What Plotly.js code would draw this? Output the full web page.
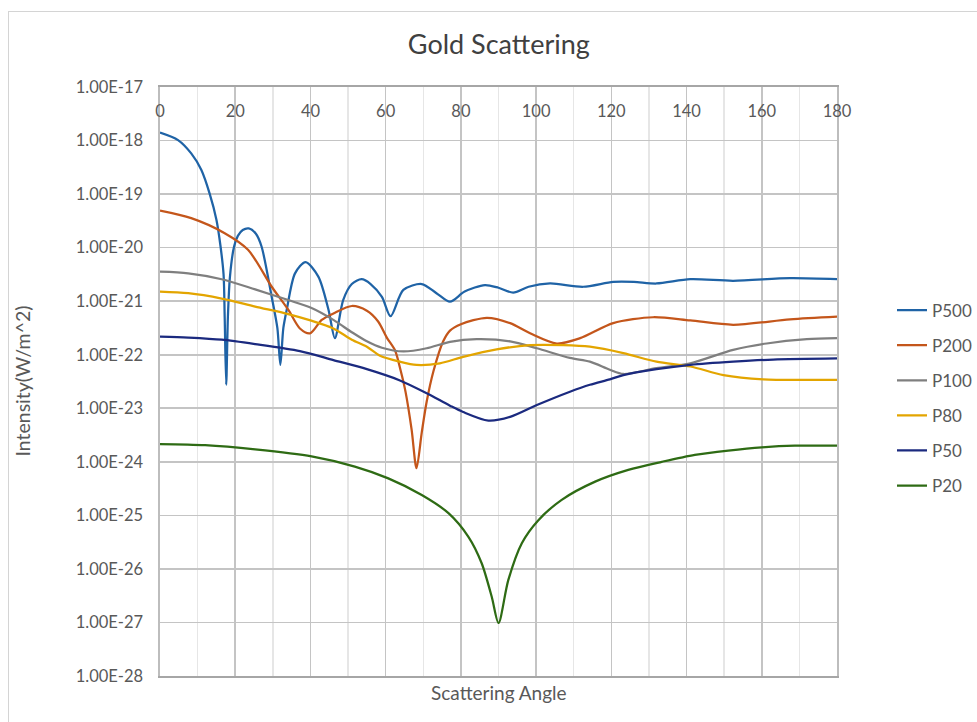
<!DOCTYPE html>
<html>
<head>
<meta charset="utf-8">
<script src="https://cdn.plot.ly/plotly-3.0.1.min.js"></script>
<style>
  html, body { margin: 0; padding: 0; background: #ffffff; overflow: hidden; }
  #chart { width: 977px; height: 722px; position: absolute; left: 0; top: 0; }
  #frame { position: absolute; left: 8px; top: 11px; width: 1000px; height: 800px;
           border: 1px solid #d4d4d4; pointer-events: none; }
</style>
</head>
<body>
<div id="chart"></div>
<div id="frame"></div>
<script>
// Scattered intensity (W/m^2) versus scattering angle (degrees) for gold particles

const angleP500 = [0, 4.8, 8.3, 11, 13.2, 15, 16.1, 16.9, 17.2, 17.6, 18.05, 18.6, 19.7, 20.7, 22, 23.6, 25.5, 27, 29.7, 31.2, 32, 32.8, 33.7, 35.9, 38.7, 42.1, 44.8, 46.5, 48.7, 51, 53.6, 56, 59, 61.3, 64.7, 69.6, 73.5, 77.1, 81, 86.4, 90, 93.9, 98, 103.7, 112.5, 120.5, 126, 132, 141, 152.4, 167.5, 180];
const P500 = [1.41e-18, 1.02e-18, 5.75e-19, 2.82e-19, 1.02e-19, 3.31e-20, 1.05e-20, 3.16e-21, 5.01e-22, 2.75e-23, 5.01e-22, 2.88e-21, 1.05e-20, 1.66e-20, 2.14e-20, 2.29e-20, 1.82e-20, 1.05e-20, 1.20e-21, 3.16e-22, 6.46e-23, 3.16e-22, 6.92e-22, 3.31e-21, 5.37e-21, 2.88e-21, 6.92e-22, 2.04e-22, 1.05e-21, 2.09e-21, 2.57e-21, 2.09e-21, 1.20e-21, 5.25e-22, 1.62e-21, 2.09e-21, 1.41e-21, 9.77e-22, 1.51e-21, 2.00e-21, 1.78e-21, 1.45e-21, 1.86e-21, 2.14e-21, 1.86e-21, 2.29e-21, 2.29e-21, 2.14e-21, 2.57e-21, 2.40e-21, 2.69e-21, 2.57e-21];

const angleP200 = [0, 8.3, 17.2, 23.4, 29.7, 34.1, 37.2, 39.9, 43, 46.1, 51, 55, 58, 60.3, 62.5, 64, 65.3, 66.9, 68.2, 69.6, 70.9, 72.7, 75.3, 77.1, 80, 86.9, 93.1, 98.4, 105.5, 111.7, 120.5, 131.1, 141, 152.4, 167.5, 180];
const P200 = [4.90e-20, 3.55e-20, 1.86e-20, 9.12e-21, 1.86e-21, 6.92e-22, 3.09e-22, 2.51e-22, 4.47e-22, 5.89e-22, 8.13e-22, 6.61e-22, 4.17e-22, 2.09e-22, 1.20e-22, 5.01e-23, 2.00e-23, 3.98e-24, 7.59e-25, 3.55e-24, 1.32e-23, 4.90e-23, 1.78e-22, 2.82e-22, 3.72e-22, 4.90e-22, 3.89e-22, 2.51e-22, 1.62e-22, 2.04e-22, 3.89e-22, 5.01e-22, 4.37e-22, 3.63e-22, 4.57e-22, 5.13e-22];

const angleP100 = [0, 7.5, 16.4, 25.3, 34.1, 40, 46.1, 51, 55, 59, 64.7, 70.9, 77.1, 84.2, 93.1, 100.2, 109, 114.3, 119.6, 123.2, 132, 141, 152.4, 161.3, 172, 180];
const P100 = [3.55e-21, 3.31e-21, 2.57e-21, 1.66e-21, 1.05e-21, 7.59e-22, 4.47e-22, 2.63e-22, 1.78e-22, 1.35e-22, 1.15e-22, 1.32e-22, 1.74e-22, 1.95e-22, 1.78e-22, 1.32e-22, 8.71e-23, 7.41e-23, 5.25e-23, 4.37e-23, 5.62e-23, 6.92e-23, 1.23e-22, 1.62e-22, 1.95e-22, 2.04e-22];

const angleP80 = [0, 7.5, 16.4, 25.3, 34.1, 40, 46.1, 51, 55, 58.5, 63.8, 68.2, 74.4, 80.6, 89.5, 98.4, 107.2, 114.3, 123.2, 132, 141, 149.8, 160.4, 172, 180];
const P80 = [1.51e-21, 1.41e-21, 1.12e-21, 7.94e-22, 5.75e-22, 4.37e-22, 3.09e-22, 1.91e-22, 1.41e-22, 9.55e-23, 7.41e-23, 6.46e-23, 6.92e-23, 9.12e-23, 1.26e-22, 1.51e-22, 1.51e-22, 1.41e-22, 1.07e-22, 7.41e-23, 6.03e-23, 4.17e-23, 3.47e-23, 3.39e-23, 3.39e-23];

const angleP50 = [0, 7.5, 16.4, 25.3, 37.2, 46.1, 55, 63.8, 70.9, 77.1, 80.6, 87.3, 93.1, 100.2, 109, 114.3, 119.6, 123.2, 132, 141, 152.4, 163, 180];
const P50 = [2.19e-22, 2.09e-22, 1.91e-22, 1.58e-22, 1.17e-22, 7.94e-23, 5.37e-23, 3.31e-23, 1.91e-23, 1.12e-23, 8.51e-24, 5.89e-24, 6.92e-24, 1.15e-23, 2.04e-23, 2.75e-23, 3.47e-23, 4.17e-23, 5.37e-23, 6.46e-23, 7.41e-23, 8.13e-23, 8.51e-23];

const angleP20 = [0, 12, 25.3, 40.3, 51.8, 60.7, 69.6, 76.7, 82, 85.5, 88.2, 90, 92.6, 96.2, 100.6, 106.8, 115.7, 124.5, 133.4, 142.2, 151.1, 160, 168.8, 180];
const P20 = [2.14e-24, 2.04e-24, 1.70e-24, 1.26e-24, 8.13e-25, 4.90e-25, 2.40e-25, 1.10e-25, 3.98e-26, 1.29e-26, 3.02e-27, 9.77e-28, 6.17e-27, 3.02e-26, 8.13e-26, 1.95e-25, 4.27e-25, 7.08e-25, 1.00e-24, 1.35e-24, 1.62e-24, 1.86e-24, 2.00e-24, 2.00e-24];

// Decade ticks on the intensity axis and their printed labels
const yTickVals = [1e-17, 1e-18, 1e-19, 1e-20, 1e-21, 1e-22, 1e-23, 1e-24, 1e-25, 1e-26, 1e-27, 1e-28];
const yTickText = ['1.00E-17', '1.00E-18', '1.00E-19', '1.00E-20', '1.00E-21', '1.00E-22', '1.00E-23', '1.00E-24', '1.00E-25', '1.00E-26', '1.00E-27', '1.00E-28'];

const seriesNames = ['P500', 'P200', 'P100', 'P80', 'P50', 'P20'];
const seriesX = [angleP500, angleP200, angleP100, angleP80, angleP50, angleP20];
const seriesY = [P500, P200, P100, P80, P50, P20];
const seriesColors = ['#1f63a6', '#c4561b', '#7f7f7f', '#e3a500', '#1b2a7f', '#2e6b14'];

const FONT = 'Lato, "Open Sans", "Noto Sans", sans-serif';

const traces = seriesNames.map((name, i) => ({
  type: 'scatter',
  mode: 'lines',
  name: name,
  legendgroup: name,
  x: seriesX[i],
  y: seriesY[i],
  line: { color: seriesColors[i], width: 2.25, shape: 'spline', smoothing: 0.8 },
  hoverinfo: 'x+y+name'
}));

const layout = {
  width: 977,
  height: 722,
  margin: { l: 160, r: 140, t: 87, b: 46, autoexpand: false },
  paper_bgcolor: '#ffffff',
  plot_bgcolor: '#ffffff',
  font: { family: FONT, color: '#595959', size: 16 },
  title: {
    text: 'Gold Scattering',
    font: { family: FONT, size: 27, color: '#404040' },
    x: 489 / 977, xref: 'paper', xanchor: 'center',
    y: 1 - 45 / 722, yref: 'container', yanchor: 'middle'
  },
  xaxis: {
    range: [0, 180],
    side: 'top',
    tickmode: 'linear', tick0: 0, dtick: 20,
    ticks: '',
    ticklabelposition: 'inside',
    ticklabeloverflow: 'allow',
    ticklabelstandoff: 19,
    tickfont: { family: FONT, size: 16.5, color: '#595959' },
    showgrid: true, gridcolor: '#c4c4c4', gridwidth: 1.6,
    minor: { dtick: 10, tick0: 0, showgrid: true, gridcolor: '#e6e6e6', gridwidth: 1.4 },
    showline: true, linecolor: '#a6a6a6', linewidth: 2, mirror: true,
    zeroline: false, fixedrange: true
  },
  yaxis: {
    type: 'log',
    range: [-28, -17],
    tickmode: 'array',
    tickvals: yTickVals,
    ticktext: yTickText,
    ticks: '',
    ticklabelstandoff: 12,
    tickfont: { family: FONT, size: 16.5, color: '#595959' },
    showgrid: true, gridcolor: '#c4c4c4', gridwidth: 1.6,
    showline: true, linecolor: '#bdbdbd', linewidth: 1.6, mirror: true,
    zeroline: false, fixedrange: true
  },
  showlegend: true,
  legend: {
    x: (892 - 160) / 677, xanchor: 'left',
    y: (676 - 398) / 589, yanchor: 'middle',
    font: { family: FONT, size: 17, color: '#595959' },
    tracegroupgap: 10,
    bgcolor: 'rgba(0,0,0,0)',
    itemclick: false, itemdoubleclick: false
  },
  annotations: [
    {
      text: 'Scattering Angle',
      xref: 'paper', yref: 'paper',
      x: 0.5, y: (676 - 692) / 589,
      xanchor: 'center', yanchor: 'middle',
      showarrow: false,
      font: { family: FONT, size: 19, color: '#595959' }
    },
    {
      text: 'Intensity(W/m^2)',
      xref: 'paper', yref: 'paper',
      x: (22 - 160) / 677, y: 0.5,
      xanchor: 'center', yanchor: 'middle',
      textangle: -90,
      showarrow: false,
      font: { family: FONT, size: 19.5, color: '#595959' }
    }
  ]
};

Plotly.newPlot('chart', traces, layout, { displayModeBar: false, staticPlot: true });
</script>
</body>
</html>
